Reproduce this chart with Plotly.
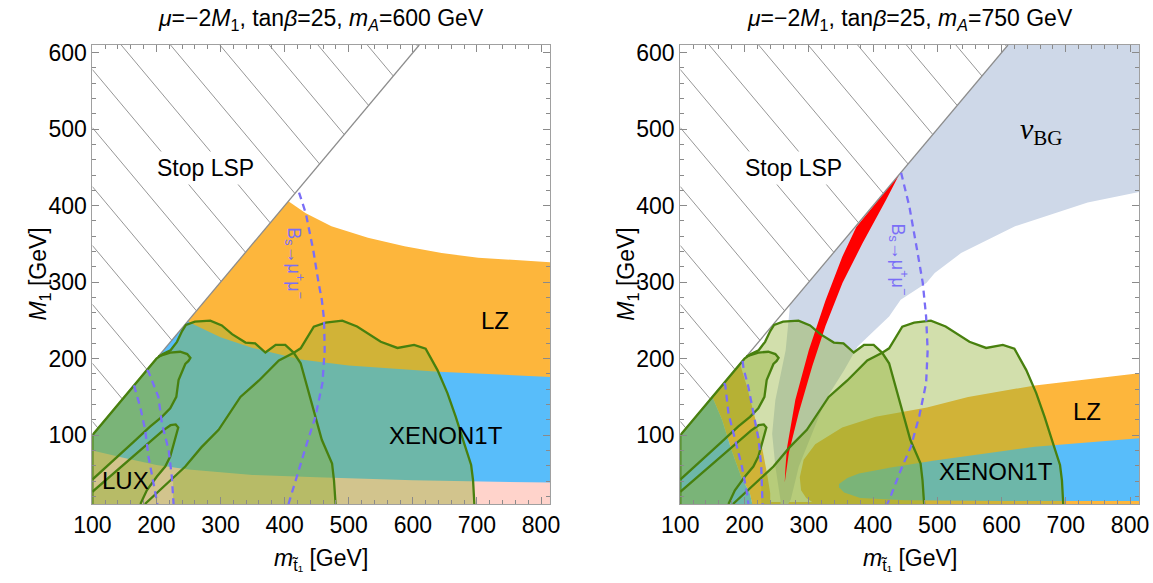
import plotly.graph_objects as go

# ---------------- data ----------------
X_RANGE = [100, 814]
Y_RANGE = [10, 610]
X_TICKS = [100, 200, 300, 400, 500, 600, 700, 800]
Y_TICKS = [100, 200, 300, 400, 500, 600]
HATCH_OFFSETS = [218, 294, 371, 448, 525, 602, 678, 755, 832, 909, 986, 1062, 1139, 1216]

# left panel (m_A = 600 GeV)
LZ_L_TOP_X = [407, 433, 473, 530, 587, 645, 702, 814]
LZ_L_TOP_Y = [405, 390, 373, 358, 347, 338, 332, 326]
XE_L_TOP_X = [250, 300, 350, 425, 500, 640, 814]
XE_L_TOP_Y = [248, 228, 214, 199, 191, 183, 176]
LUX_TOP_X = [100, 150, 200, 250, 350, 450, 600, 814]
LUX_TOP_Y = [80, 70, 61, 55, 48, 45, 41, 38]

# LHC stop-search contours (same in both panels)
A_X = [100, 100, 200, 210, 222, 232, 240, 246, 260, 284, 302, 318, 339, 354, 370, 386, 401, 414, 425, 435, 448, 458, 474, 477, 479.5]
A_Y = [10, 100, 200, 206, 211, 222, 236, 244, 248.5, 249.6, 243.4, 232, 221, 220, 208, 218, 218, 208, 194, 163.5, 124, 94, 63, 41, 10]
A_GAP_X = [226, 226, 182]
A_GAP_Y = [10, 44, 10]
B_X = [182, 245, 270, 297, 331, 360, 391, 406, 415, 425, 445.5, 464, 490, 513, 550, 576, 602, 620, 638.5, 654, 667, 680, 691, 694, 696]
B_Y = [10, 59, 84, 107, 150, 171.5, 197.6, 204, 208, 213.5, 241.8, 247, 249.7, 242, 222, 214, 218, 213, 185, 155, 124, 89.5, 61, 41, 10]
C_X = [100, 100, 203, 211, 221.5, 237, 248, 253, 250, 245, 234.5, 231, 221.5, 208.5, 190, 164, 133, 100]
C_Y = [40, 100, 203, 205, 208, 209, 206, 201, 197, 193, 172, 150, 135, 124, 111, 91, 67.5, 42]
D_X = [100, 130, 160, 190, 210, 222, 230, 234, 231, 229, 221.5, 213.7, 200.7, 185, 175, 100]
D_Y = [26, 48, 70, 92, 106, 113, 114, 110, 100, 94, 72, 59, 46, 28, 10, 10]

# B_s -> mu mu dashed contours
BS_L1_X = [185, 187.6, 203, 208.5, 219, 224, 226.7]
BS_L1_Y = [185, 183, 150, 115.5, 80.6, 45.7, 10]
BS_L2_X = [165, 174.6, 182.4, 187.6, 195.4, 201.5]
BS_L2_Y = [165, 137, 106.7, 71.8, 37, 10]
BS_L3_X = [406, 413, 424.7, 435, 448, 459, 462.5, 461.5, 458, 453, 444.6, 433, 421]
BS_L3_Y = [10, 30, 60, 90, 124, 168, 211, 251, 277, 299, 342, 390, 421]

# right panel (m_A = 750 GeV)
BS_R1_X = [197, 198.5, 206, 214, 222, 226, 228]
BS_R1_Y = [197, 187, 163, 128.5, 93.7, 58.8, 10]
BS_R2_X = [168, 170, 175, 185.5, 196, 203.8, 206]
BS_R2_Y = [168, 165.6, 128.5, 93.7, 58.8, 24, 10]
BS_R3_X = [443.7, 456.5, 469, 477.4, 482.6, 485, 482.6, 472, 459, 443.5, 425, 422]
BS_R3_Y = [443, 399, 340, 299, 255, 211, 168, 125, 85, 55, 15, 10]

LZ_R_TONGUE_X = [814, 652, 548, 484, 443, 404, 352, 310, 292, 286, 288, 296, 310, 814]
LZ_R_TONGUE_Y = [181, 165, 150, 136, 130, 124, 110, 88, 68, 45, 28, 18, 10, 10]
LZ_R_STRIP_X = [100, 814, 814, 100]
LZ_R_STRIP_Y = [10, 10, 12.5, 12.5]
LZ_R_BAND_X = [150, 193, 204, 217, 227, 235, 240, 240, 212, 208, 195, 180, 165]
LZ_R_BAND_Y = [150, 193, 163, 120, 85, 50, 24, 10, 10, 25, 45, 80, 120]
XE_R_TONGUE_X = [347, 360, 378, 430, 496, 652, 814, 814, 600, 450, 380, 355, 347]
XE_R_TONGUE_Y = [36, 44, 50, 58, 67, 85, 96, 14, 14, 15, 18, 25, 32]
XE_R_CORNER_X = [100, 100, 150, 165, 180, 195, 208, 212]
XE_R_CORNER_Y = [10, 100, 150, 120, 80, 45, 25, 10]
NUBG_X = [270, 610, 814, 814, 734, 621, 537, 496, 483, 443, 425, 376, 355, 326, 305, 284.5, 272, 268, 256, 256, 248, 243, 248, 264, 270]
NUBG_Y = [270, 610, 610, 418, 404, 373, 338, 312, 299, 277, 255, 216, 185, 146, 102, 59, 16, 10, 10, 15, 59, 102, 146, 211, 263]
RED_X = [262.6, 263.5, 266, 279, 300, 326, 352, 374, 441, 420, 383.6, 352.4, 326, 305.4, 284.5, 269, 262.6]
RED_Y = [38, 55, 83, 146, 211, 276, 333, 372, 441, 407, 350.8, 299, 242.6, 190, 129.5, 77, 38]

# ---------------- styles ----------------
ORANGE = "rgb(253,182,60)"
BLUE = "rgb(88,189,250)"
PINK = "rgb(255,211,203)"
NUBG = "rgb(206,216,232)"
RED = "rgb(255,0,0)"
GREEN_FILL = "rgba(143,175,48,0.4)"
GREEN_LINE = "rgb(72,128,14)"
DASH = "rgb(122,110,247)"
FONT = "Liberation Sans, Arial, sans-serif"

fig = go.Figure()


def under_curve(cx, cy):
    """polygon below a curve that starts on the diagonal"""
    xs = [X_RANGE[0], X_RANGE[0], cx[0]] + list(cx) + [X_RANGE[1]]
    ys = [Y_RANGE[0], X_RANGE[0], cx[0]] + list(cy) + [Y_RANGE[0]]
    return xs, ys


def band_below(cx, cy):
    xs = [cx[0]] + list(cx) + [cx[-1]]
    ys = [Y_RANGE[0]] + list(cy) + [Y_RANGE[0]]
    return xs, ys


def fill(xs, ys, color, ax):
    fig.add_trace(go.Scatter(x=xs, y=ys, fill="toself", fillcolor=color, mode="none",
                             hoverinfo="skip", showlegend=False, xaxis=ax[0], yaxis=ax[1]))


def line(xs, ys, color, width, ax, dash=None):
    fig.add_trace(go.Scatter(x=xs, y=ys, mode="lines",
                             line=dict(color=color, width=width, dash=dash),
                             hoverinfo="skip", showlegend=False, xaxis=ax[0], yaxis=ax[1]))


def hatch_and_diag(ax):
    hx, hy = [], []
    for c in HATCH_OFFSETS:
        if c / 2 < X_RANGE[0] or c / 2 > Y_RANGE[1]:
            continue
        if c - X_RANGE[0] <= Y_RANGE[1]:
            sx, sy = X_RANGE[0], c - X_RANGE[0]
        else:
            sx, sy = c - Y_RANGE[1], Y_RANGE[1]
        hx += [sx, c / 2, None]
        hy += [sy, c / 2, None]
    line(hx, hy, "rgb(105,105,105)", 0.7, ax)
    line([X_RANGE[0], Y_RANGE[1]], [X_RANGE[0], Y_RANGE[1]], "rgb(140,140,140)", 1.3, ax)


def green_contours(ax):
    a_fill_x = A_X + A_GAP_X + [X_RANGE[0]]
    a_fill_y = A_Y + A_GAP_Y + [Y_RANGE[0]]
    fill(a_fill_x, a_fill_y, GREEN_FILL, ax)
    fill(B_X, B_Y, GREEN_FILL, ax)
    fill(C_X, C_Y, GREEN_FILL, ax)
    fill(D_X, D_Y, GREEN_FILL, ax)


def green_outlines(ax):
    line(A_X, A_Y, GREEN_LINE, 2.3, ax)
    line(B_X, B_Y, GREEN_LINE, 2.3, ax)
    line(C_X[2:], C_Y[2:], GREEN_LINE, 2.3, ax)
    line(D_X[:-1], D_Y[:-1], GREEN_LINE, 2.3, ax)


L = ("x", "y")
R = ("x2", "y2")

# ---- left panel ----
fill(*under_curve(LZ_L_TOP_X, LZ_L_TOP_Y), ORANGE, L)
fill(*under_curve(XE_L_TOP_X, XE_L_TOP_Y), BLUE, L)
fill(*band_below(LUX_TOP_X, LUX_TOP_Y), PINK, L)
green_contours(L)
hatch_and_diag(L)
green_outlines(L)
for bx, by in [(BS_L1_X, BS_L1_Y), (BS_L2_X, BS_L2_Y), (BS_L3_X, BS_L3_Y)]:
    line(bx, by, DASH, 2.3, L, dash="7px,5px")

# ---- right panel ----
fill(LZ_R_TONGUE_X, LZ_R_TONGUE_Y, ORANGE, R)
fill(LZ_R_STRIP_X, LZ_R_STRIP_Y, ORANGE, R)
fill(LZ_R_BAND_X, LZ_R_BAND_Y, ORANGE, R)
fill(XE_R_TONGUE_X, XE_R_TONGUE_Y, BLUE, R)
fill(XE_R_CORNER_X, XE_R_CORNER_Y, BLUE, R)
fill(NUBG_X, NUBG_Y, NUBG, R)
green_contours(R)
fill(RED_X, RED_Y, RED, R)
hatch_and_diag(R)
green_outlines(R)
for bx, by in [(BS_R1_X, BS_R1_Y), (BS_R2_X, BS_R2_Y), (BS_R3_X, BS_R3_Y)]:
    line(bx, by, DASH, 2.3, R, dash="7px,5px")


def axis(domain, anchor, rng, ticks):
    return dict(domain=domain, anchor=anchor, range=rng, tickmode="array", tickvals=ticks,
                ticks="inside", ticklen=7, tickwidth=1, tickcolor="#8a8a8a",
                mirror="allticks", showline=True, linecolor="#a0a0a0", linewidth=1,
                showgrid=False, zeroline=False, automargin=False,
                tickfont=dict(family=FONT, size=23, color="black"),
                minor=dict(tickmode="linear", tick0=100, dtick=20, ticks="inside",
                           ticklen=4, tickcolor="#8a8a8a", showgrid=False))


YD = [0.1355, 0.9228]
fig.update_layout(
    width=1153, height=583, autosize=False,
    margin=dict(l=0, r=0, t=0, b=0, pad=0),
    paper_bgcolor="white", plot_bgcolor="white",
    showlegend=False,
    xaxis=axis([0.0801, 0.4770], "y", X_RANGE, X_TICKS),
    yaxis=axis(YD, "x", Y_RANGE, Y_TICKS),
    xaxis2=axis([0.5900, 0.9879], "y2", X_RANGE, X_TICKS),
    yaxis2=axis(YD, "x2", Y_RANGE, Y_TICKS),
)

ann = []
titles = ["600", "750"]
centers = [0.2785, 0.789]
for mA, cx in zip(titles, centers):
    ann.append(dict(xref="paper", yref="paper", x=cx, y=0.9657, xanchor="center", yanchor="middle",
                    showarrow=False,
                    text="<i>μ</i>=−2<i>M</i><sub>1</sub>, tan<i>β</i>=25, <i>m</i><sub><i>A</i></sub>=%s GeV" % mA,
                    font=dict(family=FONT, size=23, color="black")))
    ann.append(dict(xref="paper", yref="paper", x=cx, y=0.040, xanchor="center", yanchor="middle",
                    showarrow=False, text="<i>m</i><sub>t̃₁</sub> [GeV]",
                    font=dict(family=FONT, size=23, color="black")))
for yx in [0.0347, 0.5447]:
    ann.append(dict(xref="paper", yref="paper", x=yx, y=0.529, xanchor="center", yanchor="middle",
                    showarrow=False, textangle=-90,
                    text="<i>M</i><sub>1</sub> [GeV]",
                    font=dict(family=FONT, size=23, color="black")))


def label(ax, x, y, text, size=24, color="black", family=FONT, angle=0, bg=None):
    d = dict(xref=ax[0], yref=ax[1], x=x, y=y, text=text, showarrow=False,
             xanchor="center", yanchor="middle", textangle=angle,
             font=dict(family=family, size=size, color=color))
    if bg:
        d.update(bgcolor=bg, borderpad=3)
    ann.append(d)


for ax in (L, R):
    label(ax, 276, 449, "Stop LSP", size=23, bg="white")

label(L, 728, 250, "LZ")
label(L, 651, 100, "XENON1T")
label(L, 151, 41, "LUX")
label(L, 416, 325, "B<sub>s</sub>→μ<sup>+</sup>μ<sup>−</sup>", size=18, color=DASH, angle=90)

label(R, 733, 131, "LZ")
label(R, 592, 52, "XENON1T")
label(R, 440, 330, "B<sub>s</sub>→μ<sup>+</sup>μ<sup>−</sup>", size=18, color=DASH, angle=90)
label(R, 662, 497, "<i>ν</i><sub>BG</sub>", size=30, family="Liberation Serif, Times New Roman, serif")

fig.update_layout(annotations=ann)
fig.write_html("out.html", config={"displayModeBar": False},
               post_script="document.body.style.margin='0';document.body.style.overflow='hidden';")
